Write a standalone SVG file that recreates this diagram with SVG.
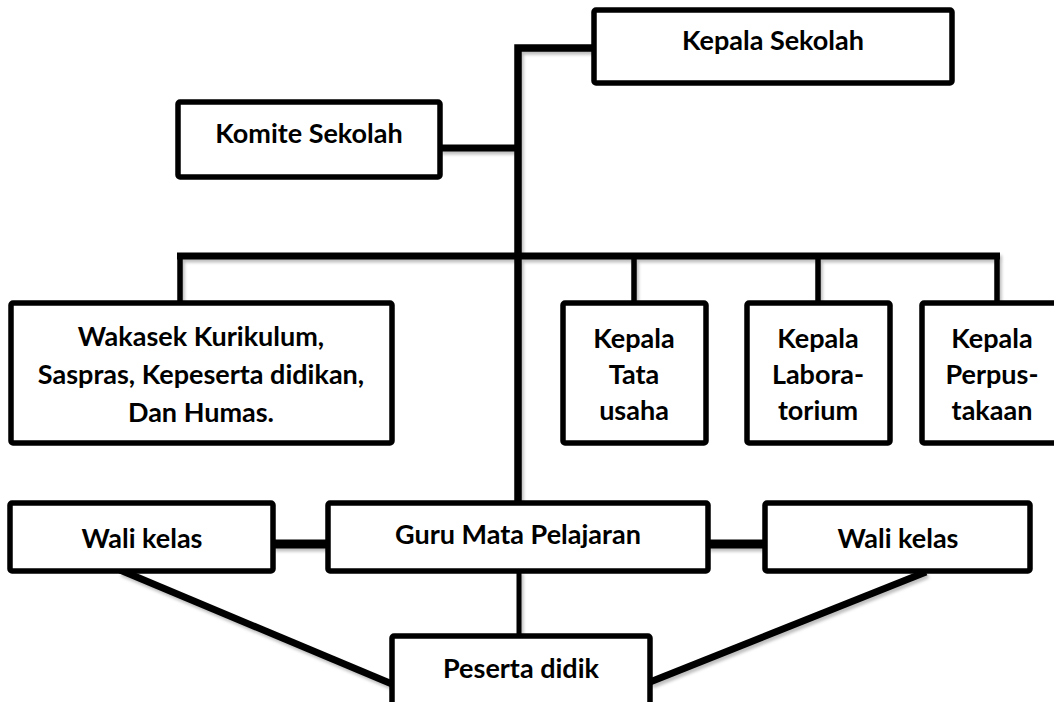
<svg xmlns="http://www.w3.org/2000/svg" width="1054" height="702" viewBox="0 0 1054 702">
<style>
.box{fill:#fff;stroke:#000;stroke-width:5.5;stroke-linejoin:round}
.t{font-family:Lato,"Open Sans","Liberation Sans",sans-serif;font-weight:bold;font-size:27px;fill:#000;text-anchor:middle}
.c{fill:none;stroke:#000;stroke-linecap:butt;stroke-linejoin:miter}
</style>
<defs>
<filter id="sh" x="-5%" y="-5%" width="110%" height="110%">
<feDropShadow dx="2" dy="3" stdDeviation="1.5" flood-color="#000" flood-opacity="0.25"/>
</filter>
</defs>
<rect width="1054" height="702" fill="#fff"/>
<g id="connectors" filter="url(#sh)">
<polyline class="c" stroke-width="7.5" points="594,48 518,48 518,505"/>
<line class="c" stroke-width="7" x1="440" y1="148" x2="518" y2="148"/>
<line class="c" stroke-width="7" x1="177" y1="256" x2="1000" y2="256"/>
<line class="c" stroke-width="5.5" x1="180" y1="256" x2="180" y2="303"/>
<line class="c" stroke-width="5.5" x1="634" y1="256" x2="634" y2="303"/>
<line class="c" stroke-width="5.5" x1="818" y1="256" x2="818" y2="303"/>
<line class="c" stroke-width="5.5" x1="997" y1="253" x2="997" y2="303"/>
<line class="c" stroke-width="9" x1="273" y1="544" x2="328" y2="544"/>
<line class="c" stroke-width="9" x1="708" y1="544" x2="765" y2="544"/>
<line class="c" stroke-width="5" x1="519" y1="571" x2="519" y2="636"/>
<line class="c" stroke-width="7" x1="120" y1="570" x2="392" y2="684"/>
<line class="c" stroke-width="7" x1="926" y1="572" x2="650" y2="682"/>
</g>
<g id="kepala-sekolah"><rect class="box" x="594" y="10" width="358" height="73" rx="2"/><text class="t" x="773" y="50">Kepala Sekolah</text></g>
<g id="komite-sekolah"><rect class="box" x="178" y="102" width="262" height="75" rx="2"/><text class="t" x="309" y="143">Komite Sekolah</text></g>
<g id="wakasek"><rect class="box" x="11" y="303" width="381" height="140" rx="2"/><text class="t" x="201" y="346">Wakasek Kurikulum,</text><text class="t" x="201" y="384">Saspras, Kepeserta didikan,</text><text class="t" x="201" y="422">Dan Humas.</text></g>
<g id="kepala-tata-usaha"><rect class="box" x="563" y="303" width="143" height="140" rx="2"/><text class="t" x="634" y="348">Kepala</text><text class="t" x="634" y="384">Tata</text><text class="t" x="634" y="420">usaha</text></g>
<g id="kepala-laboratorium"><rect class="box" x="747" y="303" width="143" height="140" rx="2"/><text class="t" x="818" y="348">Kepala</text><text class="t" x="818" y="384">Labora-</text><text class="t" x="818" y="420">torium</text></g>
<g id="kepala-perpustakaan"><rect class="box" x="922" y="303" width="140" height="140" rx="2"/><text class="t" x="992" y="348">Kepala</text><text class="t" x="992" y="384">Perpus-</text><text class="t" x="992" y="420">takaan</text></g>
<g id="wali-kelas-kiri"><rect class="box" x="10" y="503" width="263" height="68" rx="2"/><text class="t" x="142" y="548">Wali kelas</text></g>
<g id="guru-mata-pelajaran"><rect class="box" x="328" y="503" width="380" height="68" rx="2"/><text class="t" x="518" y="544">Guru Mata Pelajaran</text></g>
<g id="wali-kelas-kanan"><rect class="box" x="765" y="503" width="265" height="68" rx="2"/><text class="t" x="898" y="548">Wali kelas</text></g>
<g id="peserta-didik"><rect class="box" x="392" y="636" width="258" height="72" rx="2"/><text class="t" x="521" y="678">Peserta didik</text></g>
</svg>
